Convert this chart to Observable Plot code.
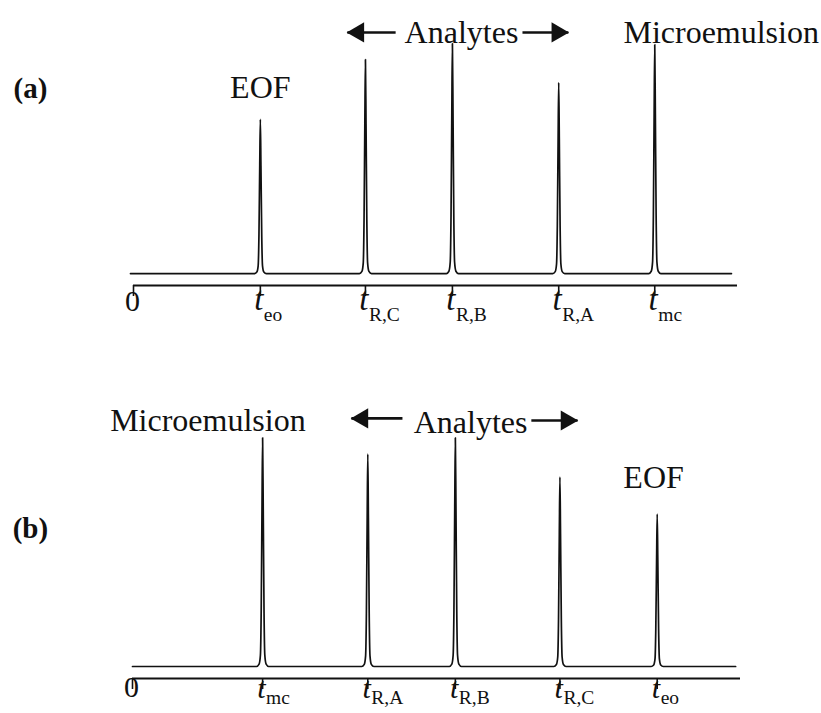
<!DOCTYPE html>
<html>
<head>
<meta charset="utf-8">
<script src="https://cdn.jsdelivr.net/npm/d3@7"></script>
<script src="https://cdn.jsdelivr.net/npm/@observablehq/plot@0.6"></script>
<style>
  html, body { margin: 0; padding: 0; background: #fff; }
  #wrap { position: relative; width: 821px; height: 713px; background: #fff; }
  #wrap > svg { position: absolute; left: 0; display: block; }
</style>
</head>
<body>
<div id="wrap"></div>
<script>
// ---------- DATA ----------
// Panel (a): migration times (axis units, 0..100) and peak heights (tallest ≈ 100)
const peakTimesA   = [21.0, 38.4, 52.8, 70.4, 86.3];
const peakHeightsA = [67, 93, 100, 83, 99.5];
const tickSubsA    = ["eo", "R,C", "R,B", "R,A", "mc"];
const traceRangeA  = [-0.5, 99.0];

// Panel (b)
const peakTimesB   = [21.4, 38.7, 53.1, 70.3, 86.3];
const peakHeightsB = [99, 92, 99, 82, 66];
const tickSubsB    = ["mc", "R,A", "R,B", "R,C", "eo"];
const traceRangeB  = [0, 99.2];

// Peak profile (relative offset in time units, fraction of height) – shape style
const peakProfile = [[-1.0, 0], [-0.58, 0.01], [-0.36, 0.05], [-0.23, 0.25], [-0.1, 0.7], [0, 1],
                     [0.1, 0.7], [0.23, 0.25], [0.36, 0.05], [0.58, 0.01], [1.0, 0]];

const FONT = "'Liberation Serif', 'Times New Roman', Times, serif";
const INK = "#111";
const YMIN = -5.2;

function buildTrace(times, heights, range) {
  const pts = [{x: range[0], y: 0}];
  times.forEach((t, i) => {
    peakProfile.forEach(([o, f]) => pts.push({x: t + o, y: f * heights[i]}));
  });
  pts.push({x: range[1], y: 0});
  return pts;
}

function panel(cfg) {
  const trace = buildTrace(cfg.times, cfg.heights, cfg.range);
  const ticks = cfg.times.map((t, i) => ({t, sub: cfg.subs[i]}));
  return Plot.plot({
    width: 821,
    height: cfg.height,
    marginTop: cfg.marginTop,
    marginBottom: cfg.marginBottom,
    marginLeft: cfg.marginLeft,
    marginRight: cfg.marginRight,
    x: {domain: [0, 100], axis: null},
    y: {domain: [YMIN, 100], axis: null},
    style: {fontFamily: FONT, background: "#fff", color: INK},
    marks: [
      // axis line
      Plot.ruleY([YMIN], {stroke: INK, strokeWidth: 2}),
      // ticks
      Plot.axisX({ticks: [0, ...cfg.times], tickSize: 11, tickFormat: () => "", label: null, stroke: INK, strokeWidth: 1.6}),
      // chromatogram trace
      Plot.line(trace, {x: "x", y: "y", curve: "monotone-x", stroke: INK, strokeWidth: 1.7}),
      // tick labels
      Plot.text([0], {x: d => d, frameAnchor: "bottom", text: () => "0", dy: cfg.zeroDy, dx: -1, fontSize: 30, fill: INK}),
      Plot.text(ticks, {x: "t", frameAnchor: "bottom", text: () => "t", textAnchor: "end", dx: 3, dy: cfg.tDy, fontSize: cfg.tSize, fontStyle: "italic", fill: INK}),
      Plot.text(ticks, {x: "t", frameAnchor: "bottom", text: "sub", textAnchor: "start", dx: 3.5, dy: cfg.subDy, fontSize: 19.5, fill: INK}),
      // annotations
      Plot.text(cfg.labels, {x: "x", y: "y", text: "text", fontSize: 32, fill: INK}),
      Plot.text([cfg.panel], {x: "x", y: "y", text: "text", fontSize: 29, fontWeight: "bold", fill: INK}),
      // arrows (shaft + filled head)
      Plot.link(cfg.arrows, {x1: "x1", y1: "y", x2: "x2", y2: "y", stroke: INK, strokeWidth: 2.6}),
      Plot.dot(cfg.arrows.filter(d => d.x2 < d.x1), {x: "x2", y: "y", symbol: "triangle", rotate: -90, r: 7.5, fill: INK, stroke: "none", dx: 11}),
      Plot.dot(cfg.arrows.filter(d => d.x2 > d.x1), {x: "x2", y: "y", symbol: "triangle", rotate: 90, r: 7.5, fill: INK, stroke: "none", dx: -11})
    ]
  });
}

const svgA = panel({
  times: peakTimesA, heights: peakHeightsA, subs: tickSubsA, range: traceRangeA,
  height: 356, marginTop: 43, marginBottom: 71, marginLeft: 133, marginRight: 84,
  zeroDy: 25, tDy: 24, subDy: 35, tSize: 33,
  labels: [
    {x: 54.3, y: 104.8, text: "Analytes"},
    {x: 97.3, y: 104.8, text: "Microemulsion"},
    {x: 21.0, y: 80.9, text: "EOF"}
  ],
  panel: {x: -17.05, y: 80.4, text: "(a)"},
  arrows: [
    {x1: 43.4, x2: 35.4, y: 104.8},
    {x1: 64.4, x2: 72.0, y: 104.8}
  ]
});
svgA.style.top = "0px";

const svgB = panel({
  times: peakTimesB, heights: peakHeightsB, subs: tickSubsB, range: traceRangeB,
  height: 357, marginTop: 79, marginBottom: 35, marginLeft: 132, marginRight: 81,
  zeroDy: 18, tDy: 19, subDy: 25.5, tSize: 30,
  labels: [
    {x: 55.6, y: 105.6, text: "Analytes"},
    {x: 12.4, y: 106.5, text: "Microemulsion"},
    {x: 85.7, y: 81.8, text: "EOF"}
  ],
  panel: {x: -16.8, y: 59.7, text: "(b)"},
  arrows: [
    {x1: 44.4, x2: 36.0, y: 107.4},
    {x1: 65.6, x2: 73.2, y: 106.5}
  ]
});
svgB.style.top = "356px";

const wrap = document.getElementById("wrap");
wrap.appendChild(svgA);
wrap.appendChild(svgB);
</script>
</body>
</html>
